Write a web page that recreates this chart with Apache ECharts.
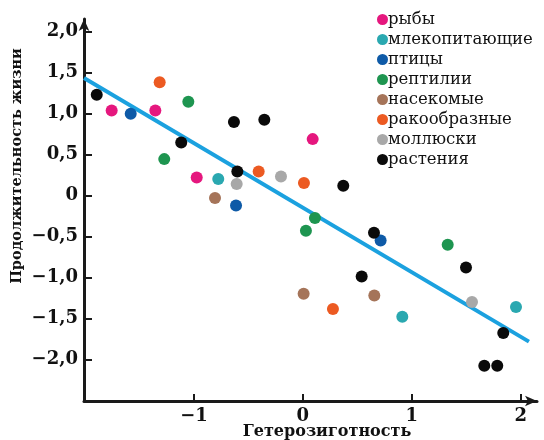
<!DOCTYPE html>
<html><head><meta charset="utf-8">
<script src="https://cdn.jsdelivr.net/npm/echarts@6/dist/echarts.min.js"></script>
<style>html,body{margin:0;padding:0;background:#fff}#c{width:544px;height:440px}</style>
</head><body><div id="c"></div>
<script>
const categories = ['рыбы','млекопитающие','птицы','рептилии','насекомые','ракообразные','моллюски','растения'];
const colors = ['#e5177e','#2aa8b0','#0e5aa7','#1e9550','#a57459','#ec5a22','#a8a8a8','#0a0a0a'];
const fish = [[-1.756,1.034],[-1.355,1.034],[-0.975,0.217],[0.090,0.685]];
const mammals = [[-0.777,0.198],[0.913,-1.482],[1.957,-1.363]];
const birds = [[-1.581,0.994],[-0.614,-0.124],[0.714,-0.551]];
const reptiles = [[-1.052,1.140],[-1.273,0.441],[0.111,-0.278],[0.028,-0.433],[1.330,-0.604]];
const insects = [[-0.807,-0.034],[0.007,-1.201],[0.656,-1.222]];
const crustaceans = [[-1.315,1.380],[-0.406,0.290],[0.010,0.149],[0.276,-1.388]];
const molluscs = [[-0.608,0.137],[-0.201,0.229],[1.553,-1.302]];
const plants = [[-1.893,1.226],[-1.117,0.644],[-0.633,0.893],[-0.354,0.921],[-0.602,0.290],[0.371,0.116],[0.653,-0.457],[0.540,-0.990],[1.498,-0.880],[1.840,-1.680],[1.666,-2.079],[1.785,-2.079]];
const groups = [fish, mammals, birds, reptiles, insects, crustaceans, molluscs, plants];
const trendLine = [[-2.01,1.430],[2.076,-1.785]];
const xTicks = [-1,0,1,2];
const yTicks = [-2,-1.5,-1,-0.5,0,0.5,1,1.5,2];
const xTitle = 'Гетерозиготность';
const yTitle = 'Продолжительность жизни';

function fmtX(v){ return String(v).replace('-', '−'); }
function fmtY(v){ if (v === 0) return '0'; return v.toFixed(1).replace('.', ',').replace('-', '−'); }

const serif = '"DejaVu Serif", "Liberation Serif", serif';
const axisCol = '#1a1a1a';

const series = [{
  type: 'line', data: trendLine, symbol: 'none', silent: true, z: 1,
  lineStyle: { color: '#1ba1df', width: 4 }
}];
categories.forEach((name, i) => {
  series.push({
    name, type: 'scatter', data: groups[i], symbolSize: 12, z: 3,
    itemStyle: { color: colors[i], opacity: 1 }
  });
});

const chart = echarts.init(document.getElementById('c'), null, { renderer: 'canvas' });
chart.setOption({
  animation: false,
  color: colors,
  grid: { left: 84, right: 7, top: 19, bottom: 39, containLabel: false },
  xAxis: {
    type: 'value', min: -2.01, max: 2.15,
    axisLine: { show: true, onZero: false, symbol: ['none', 'arrow'], symbolSize: [8, 12], lineStyle: { color: axisCol, width: 3 } },
    axisTick: { show: true, inside: true, length: 7, customValues: xTicks, lineStyle: { color: axisCol, width: 2 } },
    axisLabel: { customValues: xTicks, formatter: fmtX, color: '#111', fontFamily: serif, fontWeight: 'bold', fontSize: 18, margin: 6 },
    splitLine: { show: false }
  },
  yAxis: {
    type: 'value', min: -2.509, max: 2.15,
    axisLine: { show: true, onZero: false, symbol: ['none', 'arrow'], symbolSize: [8, 12], lineStyle: { color: axisCol, width: 3 } },
    axisTick: { show: true, inside: true, length: 8, customValues: yTicks, lineStyle: { color: axisCol, width: 2 } },
    axisLabel: { customValues: yTicks, formatter: fmtY, color: '#111', fontFamily: serif, fontWeight: 'bold', fontSize: 18, margin: 6 },
    splitLine: { show: false }
  },
  legend: {
    data: categories, orient: 'vertical', left: 372, top: 6,
    icon: 'circle', itemWidth: 11, itemHeight: 11, itemGap: 3,
    textStyle: { fontFamily: serif, fontSize: 16.5, color: '#111', lineHeight: 16, padding: [0,0,0,-5] }
  },
  graphic: [
    { type: 'text', x: 327, y: 432, style: { text: xTitle, font: 'bold 16px ' + serif, fill: '#111', textAlign: 'center', textVerticalAlign: 'middle' } },
    { type: 'text', rotation: Math.PI / 2, x: 17, y: 166, style: { text: yTitle, font: 'bold 14.5px ' + serif, fill: '#111', textAlign: 'center', textVerticalAlign: 'middle' } }
  ],
  series
});
</script>
</body></html>
